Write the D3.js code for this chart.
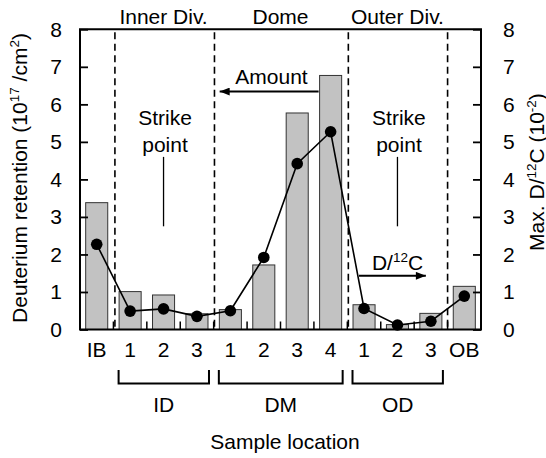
<!DOCTYPE html>
<html><head><meta charset="utf-8">
<script src="https://cdn.jsdelivr.net/npm/d3@7"></script>
<style>
html,body{margin:0;padding:0;background:#fff;}
svg{display:block;font-family:"Liberation Sans",Arial,Helvetica,sans-serif;}
</style></head>
<body>
<svg id="c" width="546" height="458"></svg>
<script>
// ---- data ----
const categories = ["IB","ID1","ID2","ID3","DM1","DM2","DM3","DM4","OD1","OD2","OD3","OB"];
const tickLabels = ["IB","1","2","3","1","2","3","4","1","2","3","OB"];
const retention = [3.38, 1.01, 0.92, 0.42, 0.53, 1.72, 5.77, 6.77, 0.66, 0.13, 0.43, 1.15]; // 10^17 /cm^2
const maxDC = [2.27, 0.49, 0.55, 0.35, 0.50, 1.92, 4.42, 5.27, 0.56, 0.12, 0.22, 0.89];     // 10^-2
const yTicks = [0,1,2,3,4,5,6,7,8];
const regions = [{name:"Inner Div.", from:"ID1", to:"ID3"},{name:"Dome", from:"DM1", to:"DM4"},{name:"Outer Div.", from:"OD1", to:"OD3"}];
const groups = [{name:"ID", from:"ID1", to:"ID3"},{name:"DM", from:"DM1", to:"DM4"},{name:"OD", from:"OD1", to:"OD3"}];

const svg = d3.select("#c");
const L = 80, R = 481, T = 29.3, B = 329.5;
const FS = 21, SFS = 13.5;

const x = d3.scaleBand().domain(categories).range([L, R]).paddingInner(0.34).paddingOuter(0.17);
const y = d3.scaleLinear().domain([0, 8]).range([B, T]);
const yR = d3.scaleLinear().domain([0, 8]).range([B, T]);
const step = x.step();
const leftEdge = c => x(c) - x.paddingInner()*step/2;
const rightEdge = c => x(c) + x.bandwidth() + x.paddingInner()*step/2;
const cx = c => x(c) + x.bandwidth()/2;

// bars
svg.append("g").selectAll("rect").data(categories).join("rect")
  .attr("x", d => x(d)).attr("width", x.bandwidth())
  .attr("y", (d,i) => y(retention[i])).attr("height", (d,i) => B - y(retention[i]))
  .attr("fill", "#c2c2c2").attr("stroke", "#333").attr("stroke-width", 1);

// dashed region boundaries
const dashX = [leftEdge("ID1") + 1.5, rightEdge("ID3") + 0.8, leftEdge("OD1") + 1, rightEdge("OD3")];
svg.append("g").selectAll("line").data(dashX).join("line")
  .attr("x1", d => d).attr("x2", d => d).attr("y1", T+3).attr("y2", B)
  .attr("stroke", "#000").attr("stroke-width", 1.6).attr("stroke-dasharray", "7,4.5");

// line + markers
const line = d3.line().x((d,i) => cx(categories[i])).y(d => yR(d));
svg.append("path").datum(maxDC).attr("d", line).attr("fill", "none").attr("stroke", "#000").attr("stroke-width", 1.6);
svg.append("g").selectAll("circle").data(maxDC).join("circle")
  .attr("cx", (d,i) => cx(categories[i])).attr("cy", d => yR(d)).attr("r", 5.8).attr("fill", "#000");

// axes
const axL = d3.axisLeft(y).tickValues(yTicks).tickSize(-8).tickPadding(18).tickFormat(d3.format("d"));
const axR = d3.axisRight(yR).tickValues(yTicks).tickSize(-8).tickPadding(22).tickFormat(d3.format("d"));
const gL = svg.append("g").attr("transform", `translate(${L},0)`).call(axL);
const gR = svg.append("g").attr("transform", `translate(${R},0)`).call(axR);
[gL, gR].forEach(g => {
  g.select(".domain").remove();
  g.selectAll(".tick line").attr("stroke", "#000").attr("stroke-width", 1.8);
  g.selectAll(".tick text").attr("font-size", FS).attr("fill", "#000").attr("font-family", "Liberation Sans, Arial, sans-serif");
});
// bottom axis: labels and inward ticks at band boundaries
const axB = d3.axisBottom(x).tickFormat((d,i) => tickLabels[i]).tickSize(0).tickPadding(13);
const gB = svg.append("g").attr("transform", `translate(0,${B})`).call(axB);
gB.select(".domain").remove();
gB.selectAll(".tick text").attr("font-size", FS).attr("fill", "#000").attr("font-family", "Liberation Sans, Arial, sans-serif");
const boundaries = categories.slice(1).map(c => leftEdge(c));
svg.append("g").selectAll("line").data(boundaries).join("line")
  .attr("x1", d => d).attr("x2", d => d).attr("y1", B).attr("y2", B-8)
  .attr("stroke", "#000").attr("stroke-width", 1.5);

// frame
svg.append("path").attr("d", `M${L},${B}V${T}H${R}V${B}Z`).attr("fill", "none").attr("stroke", "#000").attr("stroke-width", 2);

// region labels on top
svg.append("g").selectAll("text").data(regions).join("text")
  .attr("x", d => (leftEdge(d.from) + rightEdge(d.to))/2).attr("y", 24)
  .attr("text-anchor", "middle").attr("font-size", FS).text(d => d.name);

// strike point annotations
["ID2","OD2"].forEach(c => {
  const xc = cx(c);
  svg.append("text").attr("x", xc+1.5).attr("y", 125).attr("text-anchor", "middle").attr("font-size", FS).text("Strike");
  svg.append("text").attr("x", xc+1.5).attr("y", 151.5).attr("text-anchor", "middle").attr("font-size", FS).text("point");
  svg.append("line").attr("x1", xc).attr("x2", xc).attr("y1", y(4.6)).attr("y2", y(2.75)).attr("stroke", "#000").attr("stroke-width", 1.3);
});

// arrow markers
const defs = svg.append("defs");
defs.append("marker").attr("id", "ah").attr("viewBox", "0 0 10 8").attr("refX", 10).attr("refY", 4)
  .attr("markerWidth", 11).attr("markerHeight", 8).attr("markerUnits", "userSpaceOnUse").attr("orient", "auto")
  .append("path").attr("d", "M0,0L10,4L0,8Z").attr("fill", "#000");

// Amount arrow
svg.append("line").attr("x1", cx("DM4") - 12).attr("x2", rightEdge("ID3") + 6)
  .attr("y1", y(6.34)).attr("y2", y(6.34)).attr("stroke", "#000").attr("stroke-width", 2).attr("marker-end", "url(#ah)");
svg.append("text").attr("x", (x("DM3") + x("DM2"))/2 + 2).attr("y", 84).attr("text-anchor", "middle").attr("font-size", FS).text("Amount");

// D/12C arrow
svg.append("line").attr("x1", x("OD1") + 6).attr("x2", x("OD3") + 6)
  .attr("y1", y(1.43)).attr("y2", y(1.43)).attr("stroke", "#000").attr("stroke-width", 2).attr("marker-end", "url(#ah)");
const dc = svg.append("text").attr("x", 397.5).attr("y", 270).attr("text-anchor", "middle").attr("font-size", FS);
dc.append("tspan").text("D/");
dc.append("tspan").attr("font-size", SFS).attr("dy", -8).text("12");
dc.append("tspan").attr("dy", 8).text("C");

// bottom group brackets
const gg = svg.append("g");
groups.forEach(g => {
  const x0 = x(g.from) - 0.5, x1 = x(g.to) + x.bandwidth() + 1;
  gg.append("path").attr("d", `M${x0},370V383.5H${x1}V370`).attr("fill", "none").attr("stroke", "#000").attr("stroke-width", 2);
  gg.append("text").attr("x", (x0 + x1)/2).attr("y", 412).attr("text-anchor", "middle").attr("font-size", FS).text(g.name);
});

// axis titles
svg.append("text").attr("x", 285).attr("y", 448.5).attr("text-anchor", "middle").attr("font-size", FS).text("Sample location");

const tl = svg.append("text").attr("transform", "translate(26.5,178) rotate(-90)").attr("text-anchor", "middle").attr("font-size", FS);
tl.append("tspan").text("Deuterium retention (10");
tl.append("tspan").attr("font-size", SFS).attr("dy", -8).text("17");
tl.append("tspan").attr("dy", 8).text(" /cm");
tl.append("tspan").attr("font-size", SFS).attr("dy", -8).text("2");
tl.append("tspan").attr("dy", 8).text(")");

const tr = svg.append("text").attr("transform", "translate(543.5,172) rotate(-90)").attr("text-anchor", "middle").attr("font-size", FS);
tr.append("tspan").text("Max. D/");
tr.append("tspan").attr("font-size", SFS).attr("dy", -8).text("12");
tr.append("tspan").attr("dy", 8).text("C (10");
tr.append("tspan").attr("font-size", SFS).attr("dy", -8).text("-2");
tr.append("tspan").attr("dy", 8).text(")");
</script>
</body></html>
